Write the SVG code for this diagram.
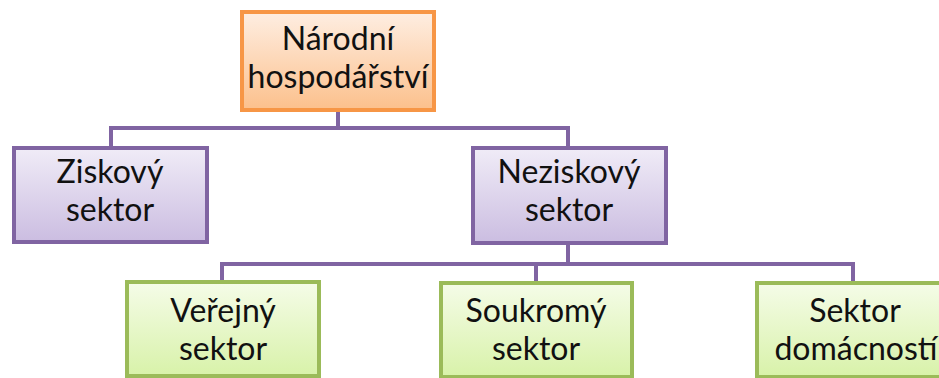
<svg xmlns="http://www.w3.org/2000/svg" width="939" height="378" viewBox="0 0 939 378">
<defs>
<linearGradient id="gO" x1="0" y1="0" x2="0" y2="1"><stop offset="0" stop-color="#FEEEE2"/><stop offset="1" stop-color="#FCC08C"/></linearGradient>
<linearGradient id="gP" x1="0" y1="0" x2="0" y2="1"><stop offset="0" stop-color="#F0ECF7"/><stop offset="1" stop-color="#CBBDE1"/></linearGradient>
<linearGradient id="gG" x1="0" y1="0" x2="0" y2="1"><stop offset="0" stop-color="#F5FCE8"/><stop offset="1" stop-color="#D8F2A9"/></linearGradient>
</defs>
<style>
.o{fill:url(#gO);stroke:#F79646;stroke-width:4}
.p{fill:url(#gP);stroke:#8064A2;stroke-width:4}
.g{fill:url(#gG);stroke:#9BBB59;stroke-width:4}
.c{fill:none;stroke:#8064A2;stroke-width:4}
text{font-family:Lato,"Open Sans","Liberation Sans",sans-serif;font-size:32px;fill:#111;text-anchor:middle}
</style>
<rect width="939" height="378" fill="#fff"/>
<g id="connectors">
<path class="c" d="M338 110V128M111 148V128H568V148"/>
<path class="c" d="M568 243V264M222 282V264H853V282M536 264V282"/>
</g>
<g id="n1"><rect class="o" x="242" y="12" width="192" height="98"/><text x="338" y="50">Národní</text><text x="338" y="88">hospodářství</text></g>
<g id="n2"><rect class="p" x="14" y="148" width="193" height="94"/><text x="110" y="183">Ziskový</text><text x="110" y="221">sektor</text></g>
<g id="n3"><rect class="p" x="473" y="148" width="193" height="95"/><text x="569" y="183">Neziskový</text><text x="569" y="221">sektor</text></g>
<g id="n4"><rect class="g" x="127" y="282" width="192" height="94"/><text x="223" y="322">Veřejný</text><text x="223" y="360">sektor</text></g>
<g id="n5"><rect class="g" x="441" y="283" width="191" height="94"/><text x="536" y="322">Soukromý</text><text x="536" y="360">sektor</text></g>
<g id="n6"><rect class="g" x="757" y="283" width="192" height="94"/><text x="855" y="322">Sektor</text><text x="856" y="360">domácností</text></g>
</svg>
